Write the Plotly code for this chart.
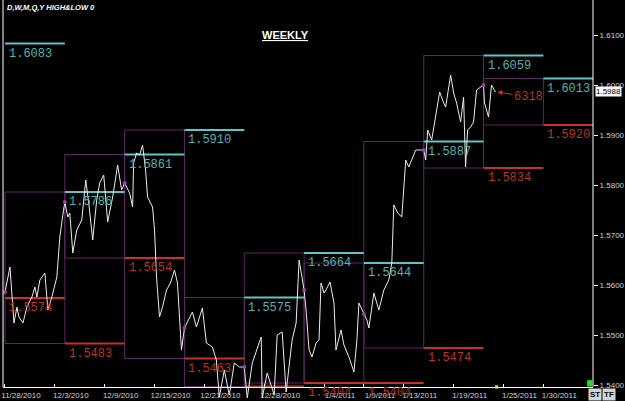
import plotly.graph_objects as go

# ---------------- data ----------------
# x = trading-day offset (Saturdays removed, day 0 = Sun 11/28/2010)
price_day = [
    0.0, 0.5, 0.9, 1.2, 1.4, 1.8, 2.2, 2.7, 3.0, 3.2, 3.5, 4.0, 4.3, 4.7, 5.2, 5.5, 5.8,
    6.0, 6.3, 6.5, 6.8, 7.2, 7.7, 8.1, 8.4, 8.8, 9.2, 9.5, 9.9, 10.3, 10.8, 11.3, 11.7,
    12.0, 12.5, 12.8, 12.9, 13.2, 13.5, 13.8, 14.1, 14.3, 14.8, 15.0, 15.2, 15.5, 15.8,
    16.2, 16.6, 17.0, 17.3, 17.5, 17.7,
    18.0, 18.8, 19.2, 19.8, 20.2, 20.8, 21.2, 21.5, 22.0, 22.5, 23.0, 23.5,
    24.0, 24.3, 24.8, 25.3, 25.7, 25.8, 26.3, 27.0, 27.3, 27.8, 28.2, 28.8, 29.2, 29.5,
    30.0, 30.2, 30.5, 30.8, 31.2, 31.5, 31.7, 32.0, 32.2, 32.6, 33.0, 33.2, 33.7, 34.0,
    34.5, 35.0, 35.3, 35.5,
    36.0, 36.3, 36.5, 37.0, 37.5, 38.0, 38.5, 38.8, 39.0, 39.4, 39.8, 40.0, 40.2, 40.5,
    41.2, 41.5,
    42.0, 42.2, 42.4, 42.8, 43.2, 43.6, 44.0, 44.2, 44.7, 45.0, 45.3, 45.7, 46.0, 46.2,
    46.4, 46.7, 47.0, 47.3,
    48.0, 48.1, 48.5, 48.8, 49.2,
]
price = [
    1.5586, 1.5636, 1.5524, 1.5556, 1.5536, 1.5524, 1.5556, 1.5576, 1.5596, 1.5576, 1.5610,
    1.5624, 1.5550, 1.5576, 1.5616, 1.5696, 1.5740,
    1.5766, 1.5736, 1.5744, 1.5664, 1.5710, 1.5730, 1.5810, 1.5764, 1.5690, 1.5770, 1.5804,
    1.5820, 1.5726, 1.5776, 1.5840, 1.5790,
    1.5804, 1.5784, 1.5756, 1.5844, 1.5864, 1.5860, 1.5880, 1.5830, 1.5776, 1.5756, 1.5710,
    1.5616, 1.5536, 1.5556, 1.5590, 1.5604, 1.5630, 1.5604, 1.5536, 1.5470,
    1.5514, 1.5546, 1.5516, 1.5554, 1.5484, 1.5476, 1.5450, 1.5376, 1.5430, 1.5380, 1.5444,
    1.5436,
    1.5436, 1.5374, 1.5444, 1.5474, 1.5496, 1.5374, 1.5424, 1.5380, 1.5500, 1.5506, 1.5386,
    1.5490, 1.5524, 1.5650,
    1.5590, 1.5550, 1.5470, 1.5456, 1.5484, 1.5490, 1.5604, 1.5584, 1.5590, 1.5606, 1.5564,
    1.5470, 1.5510, 1.5480, 1.5456, 1.5426, 1.5490, 1.5564,
    1.5542, 1.5530, 1.5514, 1.5584, 1.5550, 1.5590, 1.5610, 1.5644, 1.5760, 1.5744, 1.5736,
    1.5796, 1.5850, 1.5836, 1.5870, 1.5870,
    1.5870, 1.5850, 1.5910, 1.5890, 1.5936, 1.5986, 1.5964, 1.5956, 1.6020, 1.5984, 1.5964,
    1.5926, 1.5976, 1.5836, 1.5910, 1.5916, 1.5926, 1.5990,
    1.6000, 1.5964, 1.5936, 1.6000, 1.5986,
]

week_start = [0, 6, 12, 18, 24, 30, 36, 42, 48, 54]
week_len = 6
prev_high = [1.6083, 1.5786, 1.5861, 1.5910, 1.5575, 1.5664, 1.5644, 1.5887, 1.6059, 1.6013]
prev_low = [1.5574, 1.5483, 1.5654, 1.5453, 1.5397, 1.5404, 1.5404, 1.5474, 1.5834, 1.5920]
high_labels = ["1.6083", "1.5786", "1.5861", "1.5910", "1.5575", "1.5664", "1.5644",
               "1.5887", "1.6059", "1.6013"]
low_labels = ["1.5574", "1.5483", "1.5654", "1.5463", "", "1.5404", "1.5404",
              "1.5474", "1.5834", "1.5920"]
week_open = [1.5586, 1.5766, 1.5804, 1.5514, 1.5436, 1.5590, 1.5542, 1.5870, 1.6000]

tick_days = [0, 5, 10, 15, 20, 26, 32, 36, 40, 45, 50, 54]
tick_text = ["11/28/2010", "12/3/2010", "12/9/2010", "12/15/2010", "12/21/2010",
             "12/28/2010", "1/4/2011", "1/9/2011", "1/13/2011", "1/19/2011",
             "1/25/2011", "1/30/2011"]
price_ticks = [1.54, 1.55, 1.56, 1.57, 1.58, 1.59, 1.60, 1.61]
last_price = 1.5988
marker_text = "6318"

# ---------------- styling ----------------
CYAN = "#5ec6c6"
CYAN_TXT = "#56b2b2"
RED = "#c8302a"
RED_TXT = "#b83424"
PURPLE = "#5a2a5e"
LCD = "Liberation Mono"

fig = go.Figure()

# weekly high/low boxes
bx, by = [], []
for i in range(len(week_start) - 1):
    x0 = week_start[i]
    x1 = x0 + week_len
    hi = prev_high[i + 1]
    lo = prev_low[i + 1]
    bx += [x0, x1, x1, x0, x0, None]
    by += [lo, lo, hi, hi, lo, None]
fig.add_trace(go.Scatter(x=bx, y=by, mode="lines",
                         line=dict(color=PURPLE, width=1), hoverinfo="skip"))

# previous-week high / low levels
hx, hy, lx, ly = [], [], [], []
for i, s in enumerate(week_start):
    hx += [s, s + week_len, None]
    hy += [prev_high[i], prev_high[i], None]
    lx += [s, s + week_len, None]
    ly += [prev_low[i], prev_low[i], None]
fig.add_trace(go.Scatter(x=hx, y=hy, mode="lines", line=dict(color=CYAN, width=2),
                         hoverinfo="skip"))
fig.add_trace(go.Scatter(x=lx, y=ly, mode="lines", line=dict(color=RED, width=2),
                         hoverinfo="skip"))

# price line
fig.add_trace(go.Scatter(x=price_day, y=price, mode="lines",
                         line=dict(color="#ececec", width=1), hoverinfo="skip"))

# weekly open dots
fig.add_trace(go.Scatter(x=week_start[:len(week_open)], y=week_open, mode="markers",
                         marker=dict(color="#a03ca8", size=4), hoverinfo="skip"))

annotations = []
for i, s in enumerate(week_start):
    if high_labels[i]:
        annotations.append(dict(x=s + 0.2, y=prev_high[i], xref="x", yref="y",
                                text=high_labels[i], showarrow=False,
                                xanchor="left", yanchor="top", yshift=-1,
                                font=dict(family=LCD, size=12, color=CYAN_TXT)))
    if low_labels[i]:
        annotations.append(dict(x=s + 0.2, y=prev_low[i], xref="x", yref="y",
                                text=low_labels[i], showarrow=False,
                                xanchor="left", yanchor="top", yshift=-1,
                                font=dict(family=LCD, size=12, color=RED_TXT)))

# arrow marker near the last price
annotations.append(dict(x=price_day[-1] + 0.2, y=price[-1], xref="x", yref="y",
                        text=marker_text, showarrow=True, ax=31, ay=5,
                        arrowhead=2, arrowsize=1, arrowwidth=1, arrowcolor=RED,
                        standoff=0, font=dict(family=LCD, size=12, color=RED_TXT)))

# last price tag on the right axis
annotations.append(dict(x=1, y=last_price, xref="paper", yref="y",
                        text=f"{last_price:.4f}", showarrow=False, xanchor="left",
                        xshift=2, bgcolor="#ffffff", borderpad=0,
                        font=dict(family="Liberation Sans", size=8, color="#000000")))

# titles
annotations.append(dict(x=0.478, y=1 - 27 / 401, xref="paper", yref="paper",
                        text="<b><u>WEEKLY</u></b>", showarrow=False,
                        font=dict(family="Liberation Sans", size=11, color="#ffffff")))
annotations.append(dict(x=0.0034, y=1 - 7 / 401, xref="paper", yref="paper",
                        text="<b><i>D,W,M,Q,Y HIGH&amp;LOW 0</i></b>", showarrow=False,
                        xanchor="left", yanchor="middle",
                        font=dict(family="Liberation Sans", size=7.5, color="#ffffff")))

# ST / TF buttons
for txt, px in (("ST", 602), ("TF", 616)):
    annotations.append(dict(x=(px - 3) / 590, y=-0.0, xref="paper", yref="paper",
                            text=f"<b>{txt}</b>", showarrow=False, yanchor="bottom",
                            bgcolor="#d4d4d4", borderpad=1,
                            font=dict(family="Liberation Sans", size=8, color="#000000")))

axis_pos = (401 - 387) / 401

fig.update_layout(
    width=625, height=401,
    margin=dict(l=3, r=32, t=0, b=0),
    paper_bgcolor="#000000", plot_bgcolor="#000000",
    showlegend=False,
    annotations=annotations,
    xaxis=dict(range=[-0.2, 58.98], anchor="free", position=axis_pos,
               showgrid=False, zeroline=False, showline=True, linecolor="#ffffff",
               linewidth=1, tickmode="array", tickvals=tick_days, ticktext=tick_text,
               ticks="inside", ticklen=3, tickcolor="#ffffff",
               ticklabelshift=16, ticklabelstandoff=0,
               tickfont=dict(family="Liberation Sans", size=8, color="#d0d0d0")),
    yaxis=dict(range=[1.617 - 401 / 5000, 1.617], side="right", showgrid=False,
               zeroline=False, showline=False, tickmode="array",
               tickvals=price_ticks, ticktext=[f"{v:.4f}" for v in price_ticks],
               ticks="outside", ticklen=4, tickcolor="#ffffff",
               tickfont=dict(family="Liberation Sans", size=8, color="#d0d0d0")),
    shapes=[
        dict(type="line", xref="paper", yref="paper", x0=0, x1=0, y0=axis_pos, y1=1,
             line=dict(color="#ffffff", width=1)),
        dict(type="line", xref="paper", yref="paper", x0=1, x1=1, y0=axis_pos, y1=1,
             line=dict(color="#ffffff", width=1)),
        dict(type="rect", xref="paper", yref="paper", x0=0.990, x1=0.999,
             y0=axis_pos + 0.001, y1=axis_pos + 0.017, fillcolor="#22dd22",
             line=dict(width=0)),
        dict(type="rect", xref="paper", yref="paper", x0=0.834, x1=0.839,
             y0=axis_pos - 0.004, y1=axis_pos + 0.004, fillcolor="#f0e040",
             line=dict(width=0)),
    ],
)

fig.write_html("out.html")
